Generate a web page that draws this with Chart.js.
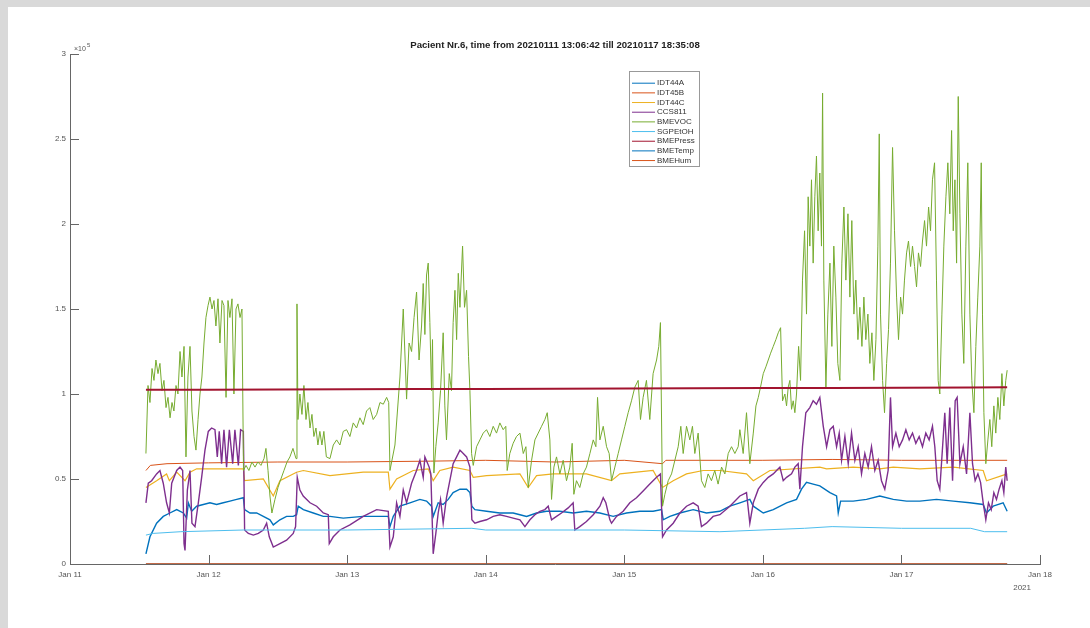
<!DOCTYPE html>
<html>
<head>
<meta charset="utf-8">
<script src="https://cdn.jsdelivr.net/npm/chart.js@4.4.0/dist/chart.umd.min.js"></script>
<style>
  html, body { margin: 0; padding: 0; background: #fff; }
  #chart { display: block; }
</style>
</head>
<body>
<canvas id="chart" width="1090" height="628"></canvas>
<script>
// time in days since Jan 11 00:00, values in units of 10^5 (axis multiplier)
const titleText = 'Pacient Nr.6, time from 20210111 13:06:42 till 20210117 18:35:08';
const dayLabels = ['Jan 11', 'Jan 12', 'Jan 13', 'Jan 14', 'Jan 15', 'Jan 16', 'Jan 17', 'Jan 18'];
const yTickLabels = ['0', '0.5', '1', '1.5', '2', '2.5', '3'];
const yearLabel = '2021';

const idt44a = [[0.548,0.06],[0.577,0.16],[0.625,0.24],[0.673,0.28],[0.721,0.30],[0.770,0.32],[0.818,0.30],[0.842,0.27],
  [0.854,0.36],[0.878,0.31],[0.914,0.34],[0.962,0.35],[1.010,0.36],[1.058,0.35],[1.106,0.36],[1.154,0.37],[1.203,0.38],
  [1.251,0.39],[1.260,0.32],[1.299,0.30],[1.347,0.30],[1.395,0.28],[1.443,0.26],[1.467,0.23],[1.515,0.26],[1.563,0.28],
  [1.611,0.28],[1.635,0.29],[1.647,0.34],[1.684,0.32],[1.756,0.30],[1.828,0.28],[1.876,0.28],[1.972,0.27],[2.116,0.28],
  [2.213,0.28],[2.297,0.28],[2.309,0.22],[2.333,0.28],[2.381,0.34],[2.453,0.36],[2.525,0.38],[2.573,0.37],[2.609,0.34],
  [2.621,0.28],[2.657,0.36],[2.693,0.35],[2.729,0.38],[2.765,0.42],[2.814,0.44],[2.862,0.44],[2.886,0.42],[2.900,0.34],
  [2.922,0.32],[3.006,0.31],[3.102,0.30],[3.198,0.30],[3.247,0.29],[3.295,0.28],[3.367,0.30],[3.439,0.31],[3.535,0.31],
  [3.631,0.30],[3.727,0.31],[3.824,0.30],[3.920,0.28],[4.016,0.30],[4.112,0.31],[4.208,0.31],[4.269,0.32],[4.281,0.26],
  [4.329,0.28],[4.401,0.30],[4.497,0.32],[4.593,0.30],[4.689,0.31],[4.762,0.34],[4.834,0.36],[4.906,0.38],[4.931,0.34],
  [5.003,0.30],[5.075,0.32],[5.171,0.36],[5.243,0.38],[5.279,0.44],[5.315,0.48],[5.363,0.47],[5.411,0.46],[5.484,0.42],
  [5.532,0.40],[5.544,0.30],[5.561,0.37],[5.652,0.37],[5.748,0.38],[5.844,0.40],[5.941,0.38],[6.037,0.37],[6.133,0.37],
  [6.253,0.38],[6.374,0.37],[6.494,0.36],[6.590,0.35],[6.614,0.30],[6.662,0.34],[6.734,0.36],[6.763,0.31]];

const idt45b = [[0.548,0.55],[0.580,0.58],[0.700,0.59],[1.000,0.595],[1.500,0.60],[2.000,0.60],[2.600,0.605],[3.000,0.61],
  [3.500,0.60],[4.000,0.61],[4.276,0.59],[4.300,0.61],[5.000,0.61],[5.500,0.615],[6.000,0.61],[6.763,0.61]];

const idt44c = [[0.548,0.45],[0.625,0.49],[0.697,0.53],[0.717,0.49],[0.770,0.54],[0.830,0.49],[0.866,0.54],[0.914,0.56],
  [1.034,0.56],[1.251,0.56],[1.260,0.49],[1.395,0.50],[1.467,0.40],[1.515,0.49],[1.635,0.54],[1.684,0.55],[1.876,0.52],
  [2.116,0.54],[2.297,0.54],[2.309,0.44],[2.357,0.50],[2.477,0.55],[2.585,0.56],[2.621,0.49],[2.669,0.55],[2.765,0.57],
  [2.886,0.55],[2.910,0.51],[3.006,0.52],[3.247,0.53],[3.307,0.45],[3.367,0.52],[3.487,0.53],[3.727,0.53],[3.908,0.49],
  [3.968,0.53],[4.208,0.55],[4.276,0.45],[4.353,0.49],[4.449,0.53],[4.569,0.55],[4.690,0.55],[4.882,0.53],[4.931,0.49],
  [5.051,0.55],[5.411,0.57],[5.460,0.56],[5.652,0.57],[5.844,0.56],[5.941,0.57],[6.133,0.56],[6.374,0.57],[6.590,0.55],
  [6.614,0.49],[6.763,0.53]];

const ccs811 = [[0.548,0.36],[0.565,0.475],[0.589,0.49],[0.625,0.53],[0.649,0.55],[0.673,0.475],[0.697,0.36],[0.717,0.30],
  [0.734,0.475],[0.770,0.55],[0.794,0.57],[0.813,0.55],[0.823,0.12],[0.830,0.08],[0.847,0.435],[0.866,0.55],[0.880,0.24],
  [0.902,0.22],[0.926,0.36],[0.950,0.51],[0.974,0.67],[0.998,0.78],[1.022,0.80],[1.046,0.79],[1.063,0.63],[1.077,0.78],
  [1.094,0.59],[1.111,0.79],[1.130,0.57],[1.150,0.79],[1.174,0.59],[1.190,0.79],[1.215,0.58],[1.231,0.79],[1.251,0.78],
  [1.260,0.20],[1.287,0.18],[1.323,0.17],[1.359,0.18],[1.395,0.20],[1.419,0.24],[1.438,0.16],[1.467,0.10],[1.515,0.12],
  [1.563,0.14],[1.611,0.18],[1.628,0.22],[1.640,0.51],[1.659,0.435],[1.683,0.40],[1.732,0.36],[1.780,0.34],[1.828,0.30],
  [1.864,0.29],[1.871,0.12],[1.900,0.16],[1.948,0.20],[2.020,0.23],[2.116,0.28],[2.213,0.32],[2.297,0.31],[2.309,0.10],
  [2.333,0.16],[2.357,0.36],[2.381,0.28],[2.405,0.435],[2.429,0.36],[2.465,0.475],[2.501,0.55],[2.525,0.61],[2.549,0.51],
  [2.561,0.63],[2.592,0.57],[2.604,0.53],[2.621,0.06],[2.640,0.18],[2.657,0.30],[2.674,0.38],[2.693,0.24],[2.717,0.39],
  [2.741,0.49],[2.765,0.59],[2.790,0.63],[2.814,0.67],[2.838,0.65],[2.862,0.63],[2.886,0.57],[2.900,0.26],[2.922,0.24],
  [2.958,0.25],[3.006,0.26],[3.054,0.28],[3.102,0.29],[3.150,0.28],[3.198,0.27],[3.247,0.26],[3.283,0.22],[3.319,0.26],
  [3.355,0.29],[3.391,0.31],[3.427,0.32],[3.451,0.34],[3.475,0.26],[3.511,0.28],[3.547,0.30],[3.595,0.33],[3.631,0.36],
  [3.643,0.20],[3.679,0.22],[3.727,0.25],[3.776,0.29],[3.824,0.34],[3.848,0.39],[3.867,0.36],[3.896,0.26],[3.908,0.24],
  [3.944,0.28],[3.992,0.31],[4.040,0.36],[4.088,0.39],[4.136,0.43],[4.184,0.47],[4.233,0.51],[4.261,0.53],[4.276,0.16],
  [4.305,0.20],[4.353,0.24],[4.401,0.30],[4.449,0.34],[4.497,0.36],[4.533,0.34],[4.557,0.22],[4.593,0.24],[4.641,0.28],
  [4.690,0.29],[4.762,0.34],[4.834,0.40],[4.882,0.42],[4.906,0.24],[4.931,0.36],[4.967,0.44],[5.003,0.48],[5.039,0.51],
  [5.075,0.53],[5.099,0.55],[5.123,0.57],[5.147,0.49],[5.171,0.51],[5.207,0.53],[5.231,0.57],[5.255,0.59],[5.267,0.44],
  [5.286,0.69],[5.310,0.89],[5.339,0.92],[5.363,0.96],[5.387,0.94],[5.411,0.98],[5.436,0.81],[5.460,0.69],[5.484,0.79],
  [5.508,0.81],[5.532,0.69],[5.551,0.77],[5.568,0.61],[5.592,0.75],[5.616,0.59],[5.640,0.77],[5.664,0.61],[5.688,0.69],
  [5.712,0.53],[5.736,0.65],[5.760,0.57],[5.784,0.69],[5.808,0.55],[5.832,0.61],[5.856,0.49],[5.880,0.44],[5.904,0.55],
  [5.921,0.98],[5.936,0.69],[5.960,0.77],[5.984,0.69],[6.008,0.73],[6.032,0.79],[6.056,0.73],[6.080,0.77],[6.104,0.71],
  [6.128,0.75],[6.152,0.69],[6.176,0.77],[6.200,0.73],[6.224,0.81],[6.241,0.69],[6.258,0.49],[6.277,0.44],[6.297,0.69],
  [6.313,0.89],[6.330,0.59],[6.349,0.92],[6.369,0.49],[6.388,0.96],[6.402,0.98],[6.422,0.59],[6.446,0.69],[6.470,0.53],
  [6.494,0.89],[6.513,0.59],[6.532,0.49],[6.552,0.53],[6.571,0.48],[6.590,0.36],[6.609,0.26],[6.628,0.36],[6.648,0.32],
  [6.667,0.42],[6.686,0.38],[6.705,0.44],[6.725,0.49],[6.739,0.42],[6.753,0.57],[6.763,0.49]];

const bmeVoc = [[0.548,0.65],[0.563,1.05],[0.577,0.95],[0.592,1.15],[0.606,1.08],[0.620,1.20],[0.635,1.12],[0.649,1.18],
  [0.664,1.02],[0.678,1.08],[0.693,0.92],[0.707,0.98],[0.722,0.86],[0.736,0.95],[0.750,0.90],[0.765,1.05],[0.779,1.00],
  [0.794,1.25],[0.808,1.10],[0.823,1.28],[0.837,0.63],[0.851,1.10],[0.866,1.28],[0.880,0.90],[0.895,0.75],[0.909,0.67],
  [0.924,0.85],[0.938,1.00],[0.952,1.10],[0.967,1.30],[0.981,1.45],[0.996,1.52],[1.010,1.57],[1.025,1.50],[1.039,1.55],
  [1.053,1.40],[1.068,1.56],[1.082,1.30],[1.097,1.55],[1.111,1.52],[1.126,0.98],[1.140,1.55],[1.154,1.45],[1.169,1.56],
  [1.183,1.00],[1.198,1.50],[1.212,1.53],[1.227,1.45],[1.241,1.50],[1.252,0.55],[1.270,0.58],[1.291,0.55],[1.313,0.60],
  [1.335,0.57],[1.356,0.60],[1.378,0.58],[1.400,0.62],[1.414,0.68],[1.429,0.55],[1.443,0.40],[1.457,0.30],[1.479,0.38],
  [1.501,0.45],[1.522,0.50],[1.544,0.55],[1.566,0.60],[1.587,0.63],[1.609,0.68],[1.631,0.62],[1.638,1.53],[1.645,0.85],
  [1.659,1.00],[1.674,0.88],[1.688,1.05],[1.703,0.85],[1.717,0.95],[1.732,0.80],[1.746,0.88],[1.760,0.75],[1.775,0.80],
  [1.789,0.70],[1.803,0.78],[1.818,0.70],[1.832,0.78],[1.850,0.63],[1.876,0.62],[1.900,0.70],[1.924,0.73],[1.948,0.70],
  [1.972,0.78],[1.996,0.79],[2.020,0.75],[2.044,0.83],[2.068,0.80],[2.092,0.86],[2.116,0.82],[2.140,0.90],[2.164,0.92],
  [2.188,0.85],[2.213,0.88],[2.237,0.95],[2.261,0.94],[2.285,0.98],[2.300,0.95],[2.309,0.55],[2.345,0.70],[2.381,1.10],
  [2.405,1.50],[2.429,0.97],[2.447,1.30],[2.465,1.25],[2.483,1.45],[2.501,1.60],[2.519,1.20],[2.537,1.40],[2.549,1.65],
  [2.561,1.35],[2.573,1.70],[2.585,1.77],[2.597,1.42],[2.609,1.02],[2.616,1.32],[2.626,0.535],[2.640,0.69],[2.657,0.83],
  [2.674,1.02],[2.693,1.36],[2.705,0.93],[2.717,0.73],[2.737,1.12],[2.753,1.02],[2.765,1.42],[2.778,1.61],[2.790,1.32],
  [2.802,1.71],[2.814,1.51],[2.833,1.87],[2.847,1.51],[2.862,1.61],[2.876,1.22],[2.886,1.02],[2.898,0.65],[2.910,0.58],
  [2.934,0.69],[2.958,0.73],[2.982,0.77],[3.006,0.79],[3.030,0.75],[3.054,0.81],[3.078,0.77],[3.102,0.83],[3.126,0.79],
  [3.145,0.81],[3.155,0.55],[3.174,0.65],[3.198,0.71],[3.222,0.75],[3.247,0.77],[3.271,0.65],[3.290,0.69],[3.307,0.45],
  [3.331,0.61],[3.355,0.73],[3.379,0.77],[3.403,0.81],[3.427,0.85],[3.444,0.89],[3.463,0.73],[3.475,0.38],[3.492,0.57],
  [3.511,0.63],[3.535,0.53],[3.559,0.61],[3.583,0.49],[3.607,0.57],[3.624,0.71],[3.636,0.41],[3.655,0.49],[3.679,0.45],
  [3.703,0.53],[3.727,0.57],[3.752,0.65],[3.776,0.73],[3.795,0.69],[3.807,0.98],[3.824,0.73],[3.848,0.81],[3.872,0.69],
  [3.891,0.65],[3.908,0.49],[3.932,0.57],[3.956,0.65],[3.980,0.73],[4.004,0.81],[4.028,0.89],[4.052,0.96],[4.076,1.04],
  [4.100,1.08],[4.117,0.85],[4.136,0.98],[4.160,1.08],[4.184,0.85],[4.208,1.12],[4.233,1.20],[4.249,1.28],[4.261,1.42],
  [4.276,0.34],[4.293,0.41],[4.317,0.49],[4.341,0.53],[4.365,0.61],[4.389,0.69],[4.408,0.81],[4.425,0.65],[4.449,0.81],
  [4.473,0.73],[4.492,0.81],[4.509,0.65],[4.533,0.77],[4.557,0.49],[4.581,0.45],[4.605,0.53],[4.629,0.49],[4.653,0.55],
  [4.677,0.47],[4.702,0.57],[4.726,0.53],[4.750,0.65],[4.774,0.69],[4.798,0.65],[4.822,0.69],[4.834,0.79],[4.858,0.65],
  [4.882,0.89],[4.906,0.59],[4.931,0.77],[4.950,0.93],[4.967,0.98],[4.983,1.04],[5.003,1.12],[5.022,1.16],[5.039,1.20],
  [5.056,1.24],[5.075,1.28],[5.094,1.32],[5.111,1.36],[5.128,1.39],[5.142,0.96],[5.159,1.00],[5.171,0.93],[5.183,1.04],
  [5.195,1.08],[5.207,0.91],[5.219,0.96],[5.231,0.89],[5.243,1.00],[5.258,1.28],[5.272,1.08],[5.286,1.67],[5.301,1.96],
  [5.315,1.47],[5.327,2.16],[5.339,1.87],[5.351,2.26],[5.363,1.77],[5.375,2.16],[5.387,2.40],[5.399,1.96],[5.411,2.30],
  [5.423,1.87],[5.431,2.77],[5.440,1.67],[5.455,1.04],[5.469,1.47],[5.484,1.77],[5.498,1.28],[5.512,1.87],[5.527,1.57],
  [5.541,1.18],[5.556,1.08],[5.570,1.77],[5.585,2.10],[5.599,1.67],[5.614,2.06],[5.628,1.57],[5.642,2.02],[5.657,1.47],
  [5.671,1.67],[5.686,1.32],[5.700,1.51],[5.715,1.28],[5.729,1.57],[5.743,1.32],[5.758,1.47],[5.772,1.18],[5.787,1.36],
  [5.801,1.08],[5.816,1.32],[5.830,1.87],[5.840,2.53],[5.849,1.47],[5.864,1.08],[5.878,0.89],[5.893,1.18],[5.907,1.38],
  [5.921,1.77],[5.936,2.45],[5.950,1.96],[5.965,1.57],[5.979,1.32],[5.994,1.57],[6.008,1.47],[6.022,1.67],[6.037,1.83],
  [6.051,1.90],[6.066,1.75],[6.080,1.87],[6.095,1.75],[6.109,1.63],[6.123,1.83],[6.138,1.75],[6.152,1.90],[6.167,2.02],
  [6.181,1.87],[6.196,2.10],[6.210,1.96],[6.224,2.26],[6.239,2.36],[6.253,1.67],[6.265,1.08],[6.277,1.00],[6.292,1.47],
  [6.306,1.87],[6.321,2.16],[6.335,2.36],[6.349,2.06],[6.362,2.55],[6.374,1.96],[6.386,2.26],[6.398,1.77],[6.410,2.75],
  [6.422,2.06],[6.436,1.47],[6.450,1.18],[6.465,1.87],[6.479,2.36],[6.494,1.47],[6.508,1.08],[6.523,0.89],[6.537,1.28],
  [6.551,1.57],[6.566,1.87],[6.576,2.36],[6.585,1.47],[6.595,0.89],[6.609,0.59],[6.624,0.73],[6.638,0.85],[6.652,0.69],
  [6.667,0.93],[6.681,0.77],[6.696,0.98],[6.710,0.85],[6.725,1.12],[6.739,0.93],[6.753,1.08],[6.763,1.14]];

const sgpEtoh = [[0.548,0.17],[0.600,0.18],[0.800,0.19],[1.250,0.20],[2.000,0.20],[2.900,0.21],[3.000,0.20],[4.000,0.20],
  [4.690,0.19],[5.300,0.21],[5.500,0.22],[6.000,0.21],[6.500,0.21],[6.600,0.19],[6.763,0.19]];

const bmePress = [[0.548,1.025],[1.000,1.025],[1.500,1.026],[2.000,1.028],[2.500,1.029],[3.000,1.030],[3.500,1.031],
  [4.000,1.033],[4.500,1.034],[5.000,1.035],[5.500,1.036],[6.000,1.037],[6.500,1.038],[6.763,1.039]];

const bmeTemp = [[0.548,0.00022],[2.000,0.00023],[4.000,0.00023],[6.000,0.00024],[6.763,0.00023]];

const bmeHum = [[0.548,0.00035],[2.000,0.00037],[4.000,0.00036],[6.000,0.00038],[6.763,0.00037]];

const seriesNames = ['IDT44A', 'IDT45B', 'IDT44C', 'CCS811', 'BMEVOC', 'SGPEtOH', 'BMEPress', 'BMETemp', 'BMEHum'];
const seriesData = [idt44a, idt45b, idt44c, ccs811, bmeVoc, sgpEtoh, bmePress, bmeTemp, bmeHum];
const seriesColors = ['#0072BD', '#D95319', '#EDB120', '#7E2F8E', '#77AC30', '#4DBEEE', '#A2142F', '#0072BD', '#D95319'];
const seriesWidths = [1.4, 1, 1.2, 1.4, 1, 1, 2, 1, 1.5];

Chart.defaults.font.family = '"Liberation Sans", Arial, sans-serif';

// MATLAB-like decorations: frame, inward ticks, title, exponent, year, legend box
const matlabLook = {
  id: 'matlabLook',
  beforeDraw(chart) {
    const c = chart.ctx;
    c.save();
    c.fillStyle = '#ffffff';
    c.fillRect(0, 0, chart.width, chart.height);
    c.fillStyle = '#d9d9d9';
    c.fillRect(0, 0, 8, chart.height);
    c.fillRect(0, 0, chart.width, 7);
    c.restore();
  },
  afterDraw(chart) {
    const c = chart.ctx;
    const a = chart.chartArea;
    const xs = chart.scales.x, ys = chart.scales.y;
    c.save();
    c.strokeStyle = '#666';
    c.lineWidth = 1;
    c.beginPath();
    xs.ticks.forEach(t => {
      const px = Math.round(xs.getPixelForValue(t.value)) + 0.5;
      c.moveTo(px, a.bottom);
      c.lineTo(px, a.bottom - 9);
    });
    ys.ticks.forEach(t => {
      const py = Math.round(ys.getPixelForValue(t.value)) + 0.5;
      c.moveTo(a.left, py);
      c.lineTo(a.left + 9, py);
    });
    c.stroke();

    // title
    c.fillStyle = '#222';
    c.textAlign = 'center';
    c.textBaseline = 'alphabetic';
    c.font = 'bold 10px "Liberation Sans", Arial, sans-serif';
    const w10 = c.measureText(titleText).width;
    const fs = 10 * 290 / w10;
    c.font = 'bold ' + fs.toFixed(2) + 'px "Liberation Sans", Arial, sans-serif';
    c.fillText(titleText, 555, 48);

    // exponent label
    c.fillStyle = '#555';
    c.textAlign = 'left';
    c.font = '7px "Liberation Sans", Arial, sans-serif';
    c.fillText('\u00d710', a.left + 4, a.top - 3);
    c.font = '6px "Liberation Sans", Arial, sans-serif';
    c.fillText('5', a.left + 17, a.top - 7);

    // year under last tick
    c.textAlign = 'right';
    c.font = '8px "Liberation Sans", Arial, sans-serif';
    c.fillText(yearLabel, xs.getPixelForValue(7) - 9, a.bottom + 26);

    // legend box
    const bx = 629, by = 71, bw = 70, bh = 95, row = 9.67;
    c.fillStyle = '#fff';
    c.fillRect(bx, by, bw, bh);
    c.strokeStyle = '#999';
    c.strokeRect(bx + 0.5, by + 0.5, bw, bh);
    c.font = '8px "Liberation Sans", Arial, sans-serif';
    c.textBaseline = 'middle';
    c.textAlign = 'left';
    chart.data.datasets.forEach((ds, i) => {
      const y = by + 11.7 + i * row;
      c.strokeStyle = ds.borderColor;
      c.lineWidth = 1;
      c.beginPath();
      c.moveTo(bx + 3, y + 0.5);
      c.lineTo(bx + 26, y + 0.5);
      c.stroke();
      c.fillStyle = '#333';
      c.fillText(ds.label, bx + 28, y + 0.5);
    });
    c.restore();
  }
};

const ctx = document.getElementById('chart').getContext('2d');
const chart = new Chart(ctx, {
  type: 'line',
  data: {
    datasets: seriesNames.map((name, i) => ({
      label: name,
      data: seriesData[i].map(p => ({ x: p[0], y: p[1] })),
      borderColor: seriesColors[i],
      backgroundColor: seriesColors[i],
      borderWidth: seriesWidths[i],
      pointRadius: 0,
      tension: 0,
      fill: false,
      order: seriesNames.length - i
    }))
  },
  options: {
    responsive: false,
    animation: false,
    events: [],
    layout: { padding: { left: 8, top: 54, right: 50, bottom: 20 } },
    plugins: {
      legend: { display: false },
      title: { display: false },
      tooltip: { enabled: false }
    },
    scales: {
      x: {
        type: 'linear',
        min: 0,
        max: 7,
        grid: { display: false, drawTicks: false },
        border: { display: true, color: '#666', width: 1 },
        ticks: {
          stepSize: 1,
          autoSkip: false,
          maxRotation: 0,
          padding: 6,
          color: '#555',
          font: { size: 8 },
          callback: v => dayLabels[v]
        },
        afterFit: s => { s.height = 44; }
      },
      y: {
        min: 0,
        max: 3,
        grid: { display: false, drawTicks: false },
        border: { display: true, color: '#666', width: 1 },
        ticks: {
          stepSize: 0.5,
          padding: 4,
          color: '#555',
          font: { size: 8 },
          callback: (v, i) => yTickLabels[i]
        },
        afterFit: s => { s.width = 62; }
      }
    }
  },
  plugins: [matlabLook]
});
</script>
</body>
</html>
